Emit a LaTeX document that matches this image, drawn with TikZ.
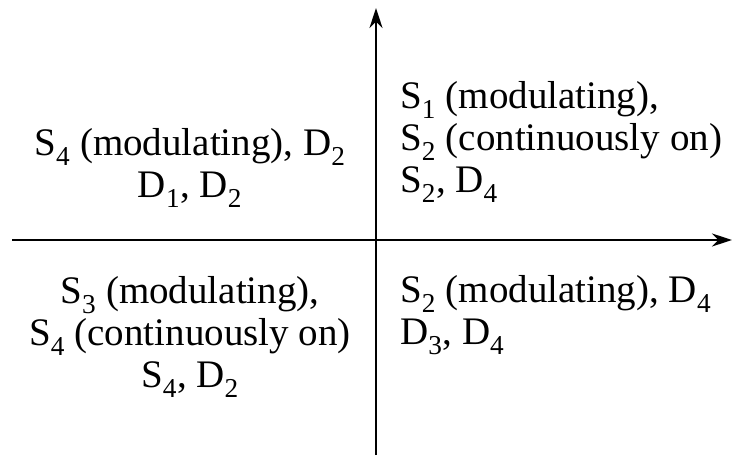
\documentclass[tikz,border=0pt]{standalone}
\usepackage{fontspec}
\setmainfont{Liberation Serif}
\usetikzlibrary{arrows.meta}
\newcommand{\Sw}[1]{S\textsubscript{#1}}
\newcommand{\Di}[1]{D\textsubscript{#1}}
\begin{document}
\begin{tikzpicture}[x=1pt,y=-1pt,
  every node/.style={font=\fontsize{39}{42}\selectfont,inner sep=0pt},
  axis/.style={line width=2.3pt,-{Stealth[length=20pt,width=13pt]}}]
  \useasboundingbox (0,0) rectangle (742,457);
  % axes
  \coordinate (xl) at (12,240); \coordinate (xr) at (732,240);
  \coordinate (yb) at (376,455); \coordinate (yt) at (376,8);
  \draw[axis] (xl) -- (xr);
  \draw[axis] (yb) -- (yt);

  % quadrant labels
  \node[align=center] (q2) at (190,168) {\Sw{4} (modulating), \Di{2}\\ \Di{1}, \Di{2}};
  \node[align=left,anchor=west] (q1) at (400,142) {\Sw{1} (modulating),\\ \Sw{2} (continuously on)\\ \Sw{2}, \Di{4}};
  \node[align=center] (q3) at (190,337) {\Sw{3} (modulating),\\ \Sw{4} (continuously on)\\ \Sw{4}, \Di{2}};
  \node[align=left,anchor=west] (q4) at (400,315) {\Sw{2} (modulating), \Di{4}\\ \Di{3}, \Di{4}};
\end{tikzpicture}
\end{document}
